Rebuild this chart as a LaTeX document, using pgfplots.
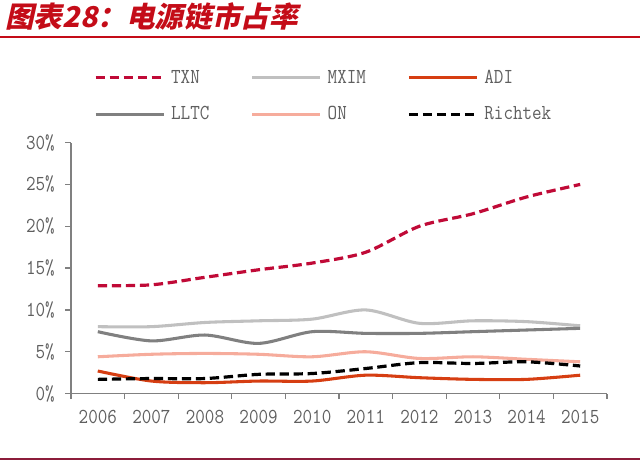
\documentclass[border=0pt]{standalone}
\usepackage{fontspec}
\usepackage{pgfplots}
\pgfplotsset{compat=1.18}
\newfontfamily\lbl[FakeStretch=0.87]{Latin Modern Mono}
\newfontfamily\cjk[FakeSlant=0.22]{Noto Sans CJK SC}
\definecolor{titlered}{RGB}{196,12,24}
\definecolor{bottomred}{RGB}{140,28,58}
\definecolor{labelgray}{RGB}{95,95,95}
\definecolor{axisgray}{RGB}{128,128,128}
\definecolor{cTXN}{RGB}{192,10,55}
\definecolor{cMXIM}{RGB}{192,192,192}
\definecolor{cADI}{RGB}{214,62,18}
\definecolor{cLLTC}{RGB}{128,128,128}
\definecolor{cON}{RGB}{246,172,156}
\definecolor{cRT}{RGB}{0,0,0}
\begin{document}
\begin{tikzpicture}
\useasboundingbox (0,0) rectangle (480pt,345pt);
\node[anchor=base west, inner sep=0pt, text=titlered, font=\cjk\bfseries\fontsize{21.5}{21.5}\selectfont] at (3.75pt,324pt) {图表28：电源链市占率};
\draw[titlered, line width=1.1pt] (0pt,317.25pt) -- (480pt,317.25pt);
\draw[bottomred, line width=1.3pt] (0pt,0.9pt) -- (480pt,0.9pt);
\begin{axis}[
  at={(53.25pt,49.8pt)}, anchor=south west,
  width=402pt, height=188.25pt, scale only axis,
  xmin=-0.5, xmax=9.5, ymin=0, ymax=30,
  axis x line*=bottom, axis y line*=left,
  axis line style={axisgray, line width=1pt},
  xtick={-0.5,0.5,...,9.5}, x tick label as interval,
  xticklabels={2006,2007,2008,2009,2010,2011,2012,2013,2014,2015},
  ytick={0,5,10,15,20,25,30},
  yticklabels={0\%,5\%,10\%,15\%,20\%,25\%,30\%},
  tick align=outside, major tick length=4.2pt,
  tick style={axisgray, line width=1pt},
  ticklabel style={text=labelgray, font=\lbl\fontsize{16}{16}\selectfont},
  yticklabel style={xshift=-4.5pt},
  xticklabel style={yshift=-4.5pt},
  legend columns=3,
  legend style={at={(0.0429,1.289)}, anchor=north west, draw=none, fill=none,
    inner sep=0pt, outer sep=0pt, row sep=15.75pt,
    font=\lbl\fontsize{16}{16}\selectfont, text=labelgray,
    nodes={inner sep=0pt, text height=9.8pt, text depth=1.8pt},
    /tikz/every odd column/.append style={column sep=4.5pt},
    /tikz/every even column/.append style={column sep=0pt}},
  legend image code/.code={\draw[#1] (0pt,0pt) -- (51pt,0pt);},
  every axis plot/.append style={smooth, tension=0.5, no markers},
]
\addplot[cTXN, line width=2.4pt, dash pattern=on 7pt off 3.5pt] coordinates {
(0,12.9) (1,13.0) (2,13.9) (3,14.8) (4,15.6) (5,16.9) (6,20.0) (7,21.5) (8,23.5) (9,25.0)};
\addlegendentry{\makebox[59.6pt][l]{TXN}}
\addplot[cMXIM, line width=2.3pt] coordinates {
(0,8.0) (1,8.0) (2,8.5) (3,8.7) (4,8.9) (5,10.0) (6,8.4) (7,8.7) (8,8.6) (9,8.1)};
\addlegendentry{\makebox[59.6pt][l]{MXIM}}
\addplot[cADI, line width=2.3pt] coordinates {
(0,2.7) (1,1.5) (2,1.3) (3,1.5) (4,1.5) (5,2.2) (6,1.9) (7,1.7) (8,1.7) (9,2.2)};
\addlegendentry{\makebox[59.6pt][l]{ADI}}
\addplot[cLLTC, line width=2.3pt] coordinates {
(0,7.4) (1,6.3) (2,7.0) (3,6.0) (4,7.4) (5,7.2) (6,7.2) (7,7.4) (8,7.6) (9,7.8)};
\addlegendentry{\makebox[59.6pt][l]{LLTC}}
\addplot[cON, line width=2.3pt] coordinates {
(0,4.4) (1,4.7) (2,4.8) (3,4.7) (4,4.4) (5,5.0) (6,4.2) (7,4.4) (8,4.1) (9,3.8)};
\addlegendentry{\makebox[59.6pt][l]{ON}}
\addplot[cRT, line width=2.4pt, dash pattern=on 7pt off 3.5pt] coordinates {
(0,1.7) (1,1.8) (2,1.8) (3,2.3) (4,2.4) (5,3.0) (6,3.7) (7,3.6) (8,3.8) (9,3.3)};
\addlegendentry{\makebox[59.6pt][l]{Richtek}}
\end{axis}
\end{tikzpicture}
\end{document}
